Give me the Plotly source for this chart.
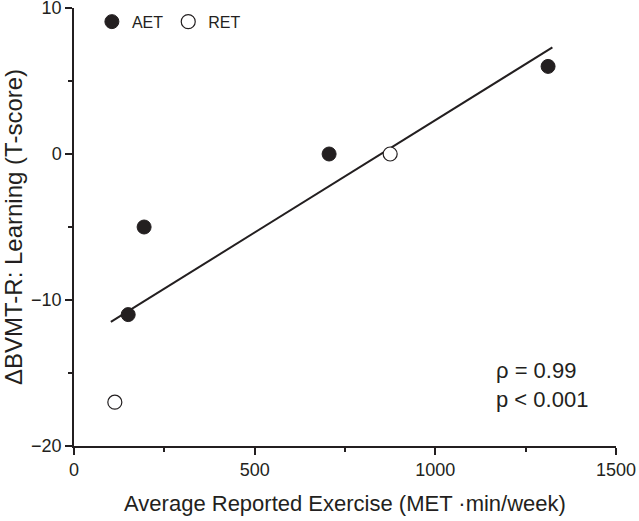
import plotly.graph_objects as go

# Data
aet_x = [150, 194, 706, 1312]
aet_y = [-11, -5, 0, 6]
ret_x = [113, 875]
ret_y = [-17, 0]
fit_x = [102, 1324]
fit_y = [-11.5, 7.3]

x_ticks = [0, 500, 1000, 1500]
y_ticks = [-20, -10, 0, 10]

ink = "#231f20"
font_family = "Liberation Sans, Arial, Helvetica, sans-serif"

fig = go.Figure()
fig.add_trace(go.Scatter(x=fit_x, y=fit_y, mode="lines",
                         line=dict(color=ink, width=2), showlegend=False, hoverinfo="skip"))
fig.add_trace(go.Scatter(x=aet_x, y=aet_y, mode="markers", name="AET",
                         marker=dict(symbol="circle", size=14, color=ink,
                                     line=dict(color=ink, width=1))))
fig.add_trace(go.Scatter(x=ret_x, y=ret_y, mode="markers", name="RET",
                         marker=dict(symbol="circle", size=14, color="white",
                                     line=dict(color=ink, width=1.2))))

axis_common = dict(showgrid=False, zeroline=False, showline=True, linecolor=ink, linewidth=1.5,
                   ticks="outside", ticklen=7, tickwidth=1.5, tickcolor=ink, automargin=False,
                   ticklabeloverflow="allow",
                   tickfont=dict(size=18, color=ink, family=font_family))

fig.update_xaxes(range=[0, 1500], tickvals=x_ticks, ticktext=[str(v) for v in x_ticks],
                 minor=dict(dtick=250, tick0=0, ticklen=4, tickwidth=1.5, tickcolor=ink, ticks="outside"),
                 title=dict(text="Average Reported Exercise (MET ·min/week)",
                            font=dict(size=22, color=ink, family=font_family), standoff=16),
                 **axis_common)
fig.update_yaxes(range=[-20, 10], tickvals=y_ticks,
                 minor=dict(dtick=5, tick0=0, ticklen=4, tickwidth=1.5, tickcolor=ink, ticks="outside"),
                 title=dict(text="ΔBVMT-R: Learning (T-score)",
                            font=dict(size=24, color=ink, family=font_family), standoff=14),
                 **axis_common)

fig.add_annotation(xref="paper", yref="paper", x=0.774, y=0.074, xanchor="left", yanchor="bottom",
                   text="ρ = 0.99<br>p < 0.001", showarrow=False, align="left",
                   font=dict(size=22, color=ink, family=font_family))

fig.update_layout(width=639, height=521, margin=dict(l=74, r=23, t=8, b=75, autoexpand=False),
                  paper_bgcolor="white", plot_bgcolor="white",
                  font=dict(family=font_family, color=ink),
                  legend=dict(orientation="h", xref="container", yref="container",
                              x=0.1438, y=0.9583, xanchor="left", yanchor="middle",
                              font=dict(size=16, color=ink, family=font_family),
                              itemwidth=30, bgcolor="rgba(0,0,0,0)"))

fig.write_html("out.html")
